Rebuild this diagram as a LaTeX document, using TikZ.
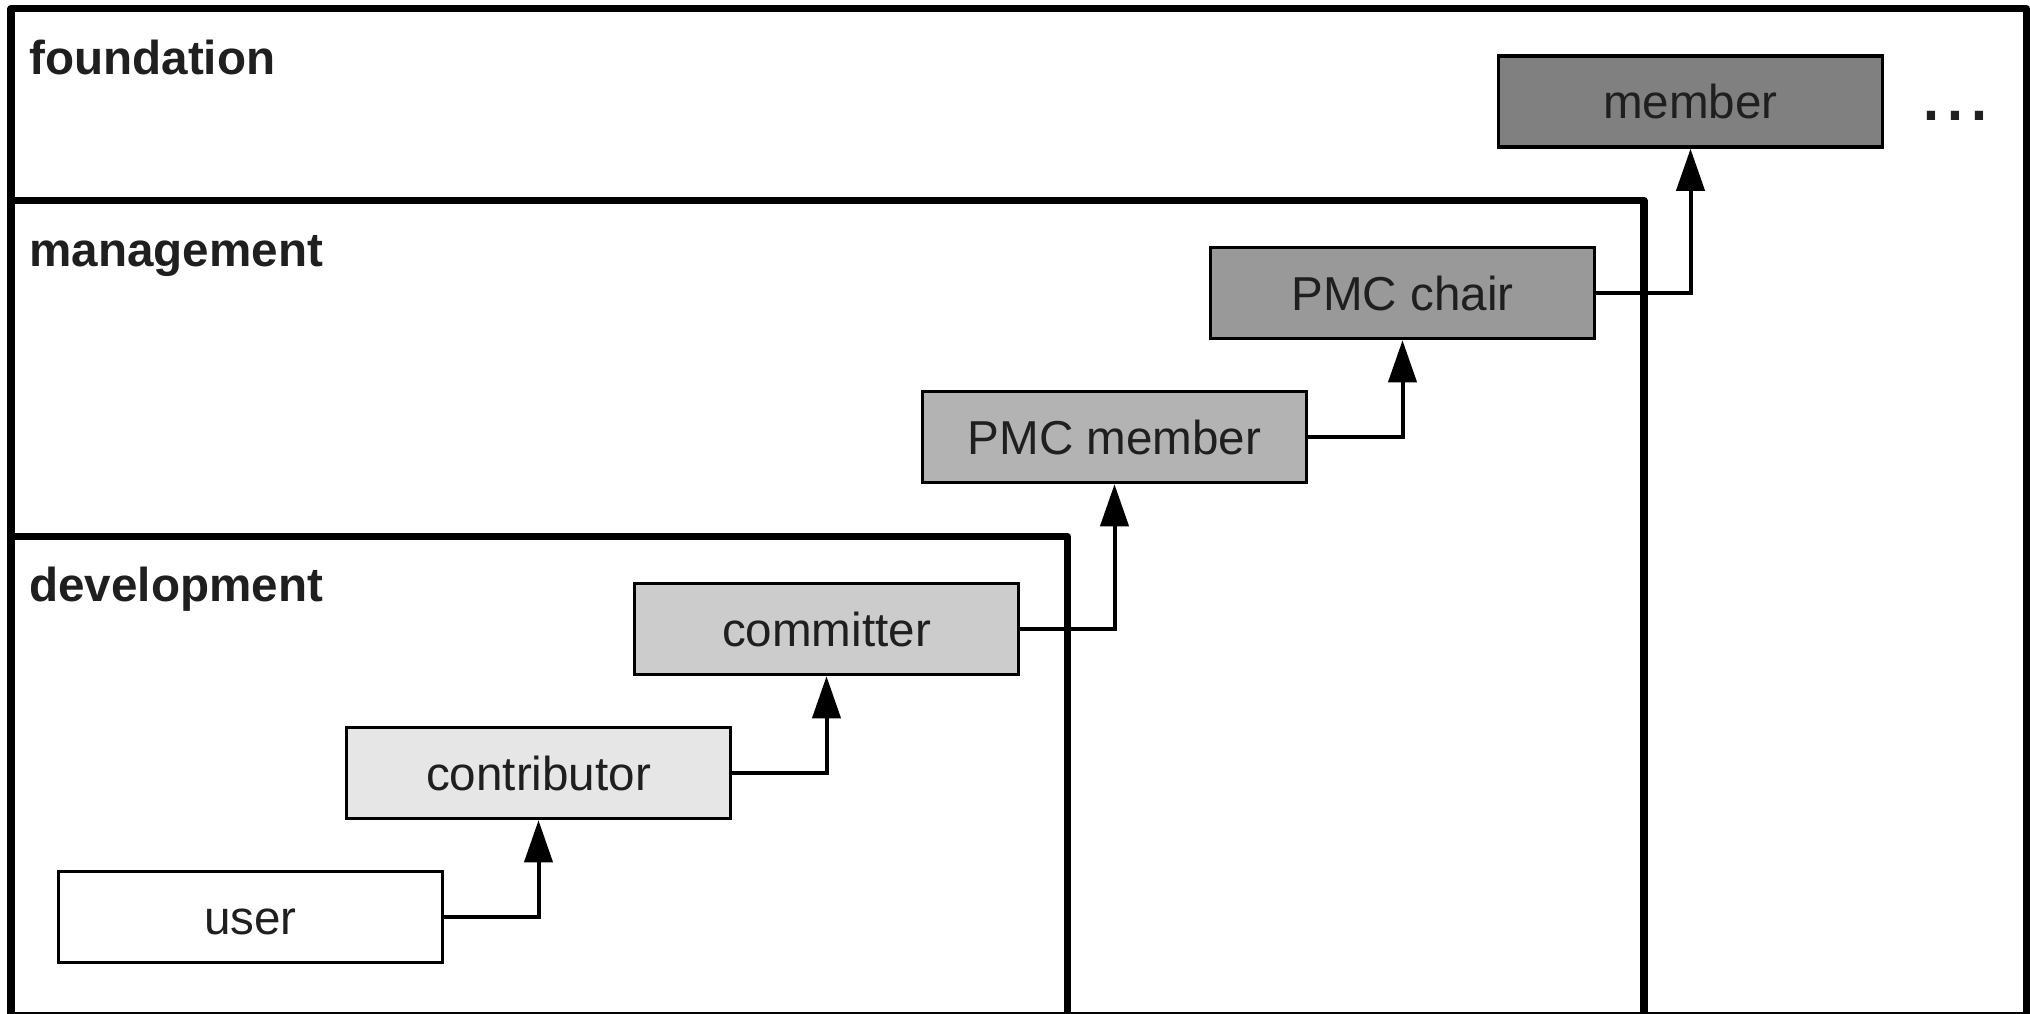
\documentclass[tikz,border=0pt]{standalone}
\usepackage{fontspec}
\setmainfont{Liberation Sans}
\usetikzlibrary{arrows.meta}
\definecolor{ink}{HTML}{1F1F1F}
\definecolor{lvlA}{HTML}{FFFFFF}
\definecolor{lvlB}{HTML}{E6E6E6}
\definecolor{lvlC}{HTML}{CCCCCC}
\definecolor{lvlD}{HTML}{B3B3B3}
\definecolor{lvlE}{HTML}{999999}
\definecolor{lvlF}{HTML}{808080}
\begin{document}
\begin{tikzpicture}[x=0.5pt,y=-0.5pt,
  frame/.style={draw=black,line width=3.6pt,line join=round},
  role/.style={draw=black,line width=1.75pt,minimum width=192pt,minimum height=45.5pt,
    inner sep=0pt,text height=17pt,text depth=0pt,
    font=\fontsize{23.8}{28}\selectfont,text=ink},
  tier/.style={anchor=base west,inner sep=0pt,
    font=\bfseries\fontsize{23.8}{28}\selectfont,text=ink},
  conn/.style={draw=black,line width=2pt,-{Triangle[length=21pt,width=14pt]}}
]
\useasboundingbox (0,0) rectangle (2030,1013);
\clip (0,0) rectangle (2030,1013);
\fill[white] (0,0) rectangle (2030,1013);

% nested tiers, open towards the bottom edge
\draw[frame] (11,8.5) rectangle (2026.5,1015.5);
\draw[frame] (11,200.5) rectangle (1644,1015.5);
\draw[frame] (11,536.5) rectangle (1067.5,1015.5);

\node[tier] (tfound) at (29,74) {foundation};
\node[tier] (tmgmt) at (29,266) {management};
\node[tier] (tdev) at (29,601) {development};

% roles
\node[role,fill=lvlA] (user) at (250.5,917) {user};
\node[role,fill=lvlB] (contrib) at (538.5,773) {contributor};
\node[role,fill=lvlC] (committer) at (826.5,629) {committer};
\node[role,fill=lvlD] (pmcmember) at (1114.5,437) {PMC member};
\node[role,fill=lvlE] (pmcchair) at (1402.5,293) {PMC chair};
\node[role,fill=lvlF] (member) at (1690.5,101.5) {member};

\node[anchor=base west,inner sep=0pt,font=\fontsize{43}{50}\selectfont,text=ink]
  (more) at (1919,120) {...};

% promotion path
\draw[conn] (user.east) -| (contrib.south);
\draw[conn] (contrib.east) -| (committer.south);
\draw[conn] (committer.east) -| (pmcmember.south);
\draw[conn] (pmcmember.east) -| (pmcchair.south);
\draw[conn] (pmcchair.east) -| (member.south);
\end{tikzpicture}
\end{document}
